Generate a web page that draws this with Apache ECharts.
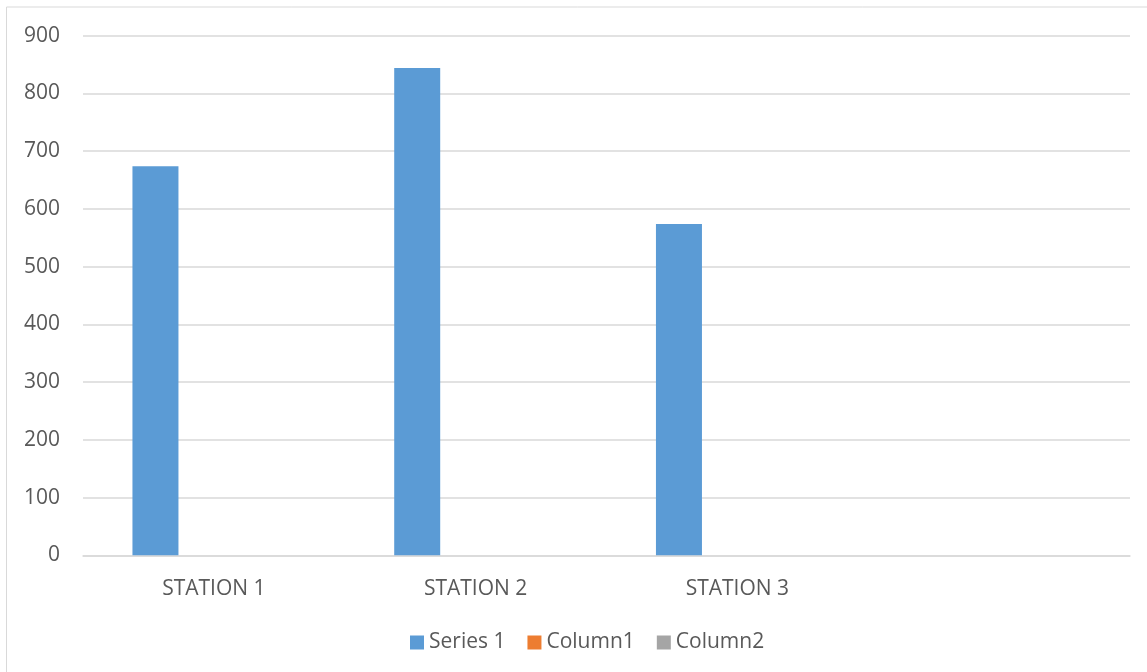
<!DOCTYPE html>
<html>
<head>
<meta charset="utf-8">
<script src="https://cdn.jsdelivr.net/npm/echarts@6/dist/echarts.min.js"></script>
<style>
html,body{margin:0;padding:0;background:#fff;}
#chart{width:1147px;height:672px;}
</style>
</head>
<body>
<div id="chart"></div>
<script>
var categories = ['STATION 1', 'STATION 2', 'STATION 3', ''];
var series1 = [674, 844, 574, null];
var column1 = [null, null, null, null];
var column2 = [null, null, null, null];
var seriesNames = ['Series 1', 'Column1', 'Column2'];
var colors = ['#5B9BD5', '#ED7D31', '#A5A5A5'];

var chart = echarts.init(document.getElementById('chart'), null, {renderer: 'canvas'});
var font = '"Open Sans", "Noto Sans", sans-serif';
var textColor = '#595959';
var datas = [series1, column1, column2];

chart.setOption({
  animation: false,
  backgroundColor: '#ffffff',
  textStyle: {fontFamily: font},
  graphic: [{
    type: 'rect',
    shape: {x: 6.5, y: 7, width: 1300, height: 800},
    style: {fill: 'none', stroke: '#d9d9d9', lineWidth: 1},
    silent: true
  }],
  grid: {left: 83, right: 17, top: 35.7, bottom: 116.7, containLabel: false},
  legend: {
    bottom: 14,
    left: 405,
    itemWidth: 14,
    itemHeight: 14,
    itemGap: 22,
    icon: 'rect',
    textStyle: {color: textColor, fontSize: 21, fontFamily: font},
    data: seriesNames
  },
  xAxis: {
    type: 'category',
    data: categories,
    axisLine: {show: true, lineStyle: {color: '#d9d9d9', width: 1.5}},
    axisTick: {show: false},
    axisLabel: {color: textColor, fontSize: 21, fontFamily: font, margin: 23, interval: 0}
  },
  yAxis: {
    type: 'value',
    min: 0,
    max: 900,
    interval: 100,
    axisLine: {show: false},
    axisTick: {show: false},
    splitLine: {lineStyle: {color: '#d9d9d9', width: 1.5}},
    axisLabel: {color: textColor, fontSize: 21, fontFamily: font, margin: 23}
  },
  series: seriesNames.map(function (n, i) {
    return {
      name: n,
      type: 'bar',
      data: datas[i],
      barWidth: 46,
      barGap: '27%',
      itemStyle: {color: colors[i]}
    };
  })
});
</script>
</body>
</html>
